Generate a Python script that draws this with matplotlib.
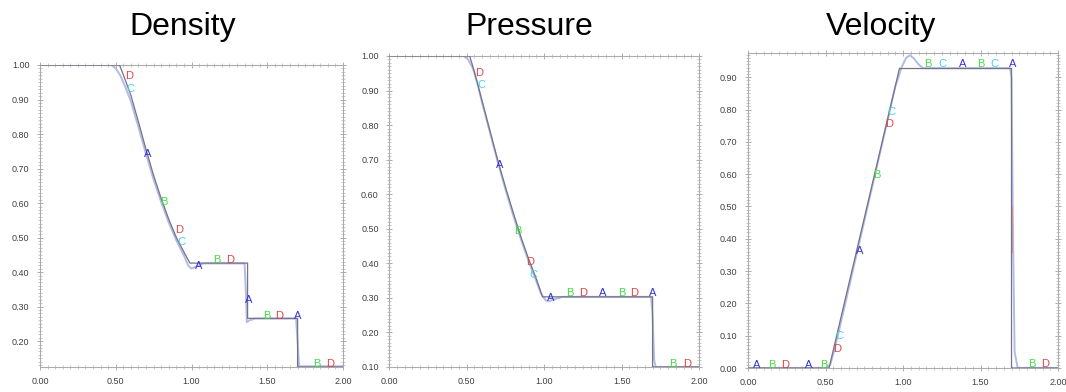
import matplotlib.pyplot as plt
from matplotlib.ticker import MultipleLocator, FormatStrFormatter

plt.rcParams['font.family'] = ['Liberation Sans', 'DejaVu Sans']

# Density: exact (dark) and computed (light) curves
rho_exact_x = [0.0, 0.525, 0.55, 0.60, 0.65, 0.70, 0.75, 0.80, 0.85, 0.90, 0.95, 0.99,
               1.37, 1.37, 1.70, 1.70, 2.0]
rho_exact_y = [1.0, 1.0, 0.972, 0.912, 0.835, 0.755, 0.68, 0.613, 0.553, 0.50, 0.458, 0.426,
               0.426, 0.266, 0.266, 0.125, 0.125]
rho_num_x = [0.0, 0.47, 0.50, 0.53, 0.56, 0.60, 0.65, 0.70, 0.75, 0.80, 0.85, 0.90, 0.95,
             0.98, 1.00, 1.03, 1.08, 1.35, 1.36, 1.365, 1.38, 1.42, 1.69, 1.70, 1.71, 2.0]
rho_num_y = [1.0, 1.0, 0.99, 0.97, 0.94, 0.895, 0.82, 0.742, 0.668, 0.603, 0.543, 0.492, 0.448,
             0.418, 0.41, 0.416, 0.425, 0.425, 0.33, 0.255, 0.26, 0.265, 0.265, 0.2, 0.127, 0.127]
rho_letters = ['D', 'C', 'A', 'B', 'D', 'C', 'A', 'B', 'D', 'A', 'B', 'D', 'A', 'B', 'D']
rho_lx = [0.587, 0.594, 0.71, 0.82, 0.917, 0.932, 1.045, 1.167, 1.252, 1.375, 1.495, 1.58,
          1.70, 1.826, 1.915]
rho_ly = [0.968, 0.931, 0.742, 0.602, 0.523, 0.486, 0.417, 0.435, 0.435, 0.32, 0.274, 0.274,
          0.274, 0.134, 0.134]

# Pressure
p_exact_x = [0.0, 0.52, 0.55, 0.60, 0.65, 0.70, 0.75, 0.80, 0.85, 0.90, 0.95, 0.99,
             1.70, 1.70, 2.0]
p_exact_y = [1.0, 1.0, 0.955, 0.87, 0.785, 0.70, 0.622, 0.548, 0.477, 0.413, 0.355, 0.303,
             0.303, 0.10, 0.10]
p_num_x = [0.0, 0.48, 0.51, 0.54, 0.57, 0.60, 0.65, 0.70, 0.75, 0.80, 0.85, 0.90, 0.95,
           0.98, 1.01, 1.03, 1.06, 1.12, 1.69, 1.70, 1.71, 1.72, 2.0]
p_num_y = [1.0, 1.0, 0.99, 0.965, 0.92, 0.865, 0.78, 0.695, 0.615, 0.54, 0.47, 0.406, 0.348,
           0.312, 0.293, 0.29, 0.295, 0.303, 0.303, 0.25, 0.12, 0.10, 0.10]
p_letters = ['D', 'C', 'A', 'B', 'D', 'C', 'A', 'B', 'D', 'A', 'B', 'D', 'A', 'B', 'D']
p_lx = [0.58, 0.594, 0.711, 0.83, 0.913, 0.932, 1.043, 1.167, 1.25, 1.376, 1.50, 1.58,
        1.70, 1.833, 1.92]
p_ly = [0.952, 0.915, 0.684, 0.493, 0.404, 0.366, 0.299, 0.313, 0.313, 0.313, 0.313, 0.313,
        0.313, 0.11, 0.11]

# Velocity
u_exact_x = [0.0, 0.523, 0.977, 1.70, 1.70, 2.0]
u_exact_y = [0.0, 0.0, 0.927, 0.927, 0.0, 0.0]
u_num_x = [0.0, 0.50, 0.53, 0.56, 0.95, 0.99, 1.02, 1.045, 1.07, 1.10, 1.13, 1.69, 1.70,
           1.71, 1.72, 1.74, 2.0]
u_num_y = [0.0, 0.0, 0.01, 0.06, 0.87, 0.93, 0.96, 0.968, 0.958, 0.94, 0.928, 0.928, 0.90,
           0.40, 0.05, 0.0, 0.0]
u_red_x = [1.70, 1.70]
u_red_y = [0.36, 0.50]
u_letters = ['A', 'B', 'D', 'A', 'B', 'D', 'C', 'A', 'B', 'D', 'C', 'B', 'C', 'A', 'B', 'C',
             'A', 'B', 'D']
u_lx = [0.058, 0.156, 0.242, 0.389, 0.49, 0.573, 0.59, 0.718, 0.83, 0.912, 0.925, 1.161,
        1.252, 1.382, 1.50, 1.587, 1.708, 1.831, 1.914]
u_ly = [0.01, 0.01, 0.01, 0.01, 0.01, 0.060, 0.098, 0.363, 0.596, 0.755, 0.792, 0.94,
        0.94, 0.94, 0.94, 0.94, 0.94, 0.013, 0.013]

letter_colors = {'A': '#3434d6', 'B': '#46dc46', 'C': '#48d2e6', 'D': '#e04646'}

fig = plt.figure(figsize=(10.66, 3.92), dpi=100)

panels = [
    ('Density', [0.0375, 0.0638, 0.2843, 0.7704], (0.125, 1.0), 0.2, 1.0,
     rho_exact_x, rho_exact_y, rho_num_x, rho_num_y, rho_letters, rho_lx, rho_ly),
    ('Pressure', [0.3650, 0.0638, 0.2908, 0.7934], (0.10, 1.0), 0.1, 1.0,
     p_exact_x, p_exact_y, p_num_x, p_num_y, p_letters, p_lx, p_ly),
    ('Velocity', [0.7017, 0.0612, 0.2908, 0.8036], (0.0, 0.975), 0.0, 0.9,
     u_exact_x, u_exact_y, u_num_x, u_num_y, u_letters, u_lx, u_ly),
]
title_x = [183 / 1066, 529 / 1066, 881 / 1066]

for i, (name, rect, ylim, ymin_lab, ymax_lab, ex, ey, nx, ny, lets, lx, ly) in enumerate(panels):
    ax = fig.add_axes(rect)
    ax.plot(nx, ny, color='#b2baea', lw=1.4, zorder=2)
    ax.plot(ex, ey, color='#747482', lw=0.9, zorder=3)
    if name == 'Velocity':
        ax.plot(u_red_x, u_red_y, color='#e88080', lw=0.6, zorder=3)
    for t, x, y in zip(lets, lx, ly):
        ax.text(x, y, t, color=letter_colors[t], fontsize=8, ha='center', va='center', zorder=4)
    ax.set_xlim(0, 2.0)
    ax.set_ylim(*ylim)
    ax.set_xticks([0.0, 0.5, 1.0, 1.5, 2.0])
    yt = [round(ymin_lab + 0.1 * k, 2) for k in range(int(round((ymax_lab - ymin_lab) / 0.1)) + 1)]
    ax.set_yticks(yt)
    ax.xaxis.set_major_formatter(FormatStrFormatter('%.2f'))
    ax.yaxis.set_major_formatter(FormatStrFormatter('%.2f'))
    ax.xaxis.set_minor_locator(MultipleLocator(0.05))
    ax.yaxis.set_minor_locator(MultipleLocator(0.01))
    ax.tick_params(which='both', direction='inout', top=True, right=True,
                   color='#a0a0a0', labelsize=6.5, labelcolor='#404040', pad=5)
    ax.tick_params(which='major', length=5, width=0.6)
    ax.tick_params(which='minor', length=2.5, width=0.4)
    for s in ax.spines.values():
        s.set_color('#acacac')
        s.set_linewidth(0.8)
    fig.text(title_x[i], (392 - 35) / 392, name, fontsize=23, ha='center', va='baseline')

fig.savefig('out.png', dpi=100)
